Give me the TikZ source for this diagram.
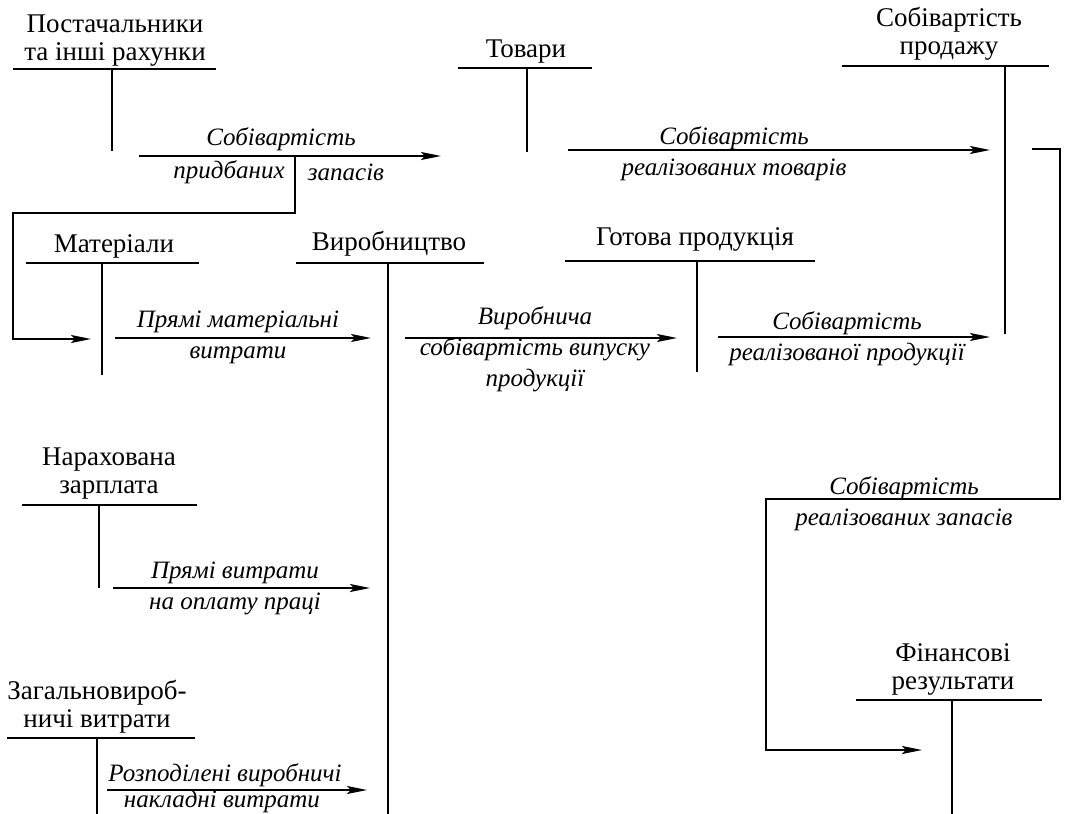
\documentclass[tikz,border=0pt]{standalone}
\usepackage{fontspec}
\setmainfont{Liberation Serif}
\usetikzlibrary{arrows.meta}
\newcommand\tacct[6]{%
  \coordinate (#1-l) at (#2,#4);
  \coordinate (#1-r) at (#3,#4);
  \coordinate (#1-t) at (#5,#4);
  \coordinate (#1-b) at (#5,#6);
  \draw[tbar] (#1-l) -- (#1-r);
  \draw[tstem] (#1-t) -- (#1-b);
}
\begin{document}
\begin{tikzpicture}[x=1pt,y=-1pt,
  title/.style={font=\fontsize{27}{28}\selectfont, align=center, inner sep=0pt},
  lbl/.style={font=\fontsize{25}{31}\selectfont\itshape, align=center, inner sep=0pt},
  tbar/.style={line width=2.4pt},
  tstem/.style={line width=2pt},
  flowa/.style={line width=1.8pt, -{Stealth[length=20pt,width=8pt,inset=4pt]}}]
\useasboundingbox[fill=white] (0,0) rectangle (1066,814);

% T-accounts: underline and stem
\tacct{post}{13}{216}{69}{112}{151}
\tacct{tov}{458}{592}{68}{527}{152}
\tacct{sobp}{842}{1049}{66}{1005}{334}
\tacct{mat}{26}{199}{263}{102}{375}
\tacct{vyr}{296}{484}{263}{388}{814}
\tacct{got}{565}{815}{261}{697}{372}
\tacct{nar}{22}{197}{505}{99}{588}
\tacct{zag}{7}{195}{738}{97}{814}
\tacct{fin}{856}{1042}{700}{952}{814}

% Account titles
\node[title] (tpost) at (115,41) {Постачальники\\та інші рахунки};
\node[title] (ttov) at (526,52) {Товари};
\node[title] (tsobp) at (949,34) {Собівартість\\продажу};
\node[title] (tmat) at (114,246) {Матеріали};
\node[title] (tvyr) at (389,244) {Виробництво};
\node[title] (tgot) at (695,239) {Готова продукція};
\node[title] (tnar) at (109,474) {Нарахована\\зарплата};
\node[title] (tzag) at (97,707) {Загальновироб-\\ничі витрати};
\node[title] (tfin) at (953,669) {Фінансові\\результати};

% flow coordinates
\coordinate (a1s) at (139,156);
\coordinate (a1e) at (441,156);
\coordinate (a1j) at (295,156);
\coordinate (a1k) at (295,213);
\coordinate (a1m) at (13,213);
\coordinate (a1n) at (13,339);
\coordinate (a1e2) at (91,339);
\coordinate (b1s) at (568,150);
\coordinate (b1e) at (990,150);
\coordinate (s1a) at (1032,149);
\coordinate (s1b) at (1060,149);
\coordinate (s1c) at (1060,499);
\coordinate (s1d) at (766,499);
\coordinate (s1e) at (766,750);
\coordinate (s1f) at (922,750);
\coordinate (c1s) at (115,338);
\coordinate (c1e) at (371,338);
\coordinate (d1s) at (405,338);
\coordinate (d1e) at (677,338);
\coordinate (e1s) at (718,337);
\coordinate (e1e) at (990,337);
\coordinate (f1s) at (113,588);
\coordinate (f1e) at (370,588);
\coordinate (g1s) at (107,790);
\coordinate (g1e) at (367,790);

% flows
\draw[flowa] (a1s) -- (a1e);
\draw[flowa] (a1j) -- (a1k) -- (a1m) -- (a1n) -- (a1e2);
\draw[flowa] (b1s) -- (b1e);
\draw[flowa] (s1a) -- (s1b) -- (s1c) -- (s1d) -- (s1e) -- (s1f);
\draw[flowa] (c1s) -- (c1e);
\draw[flowa] (d1s) -- (d1e);
\draw[flowa] (e1s) -- (e1e);
\draw[flowa] (f1s) -- (f1e);
\draw[flowa] (g1s) -- (g1e);

% flow labels
\node[lbl] (l1a) at (281,139) {Собівартість};
\node[lbl] (l1b) at (229,172) {придбаних};
\node[lbl] (l1c) at (346,172) {запасів};
\node[lbl] (l2) at (734,154) {Собівартість\\реалізованих товарів};
\node[lbl] (l3) at (238,337) {Прямі матеріальні\\витрати};
\node[lbl] (l4) at (535,349) {Виробнича\\собівартість випуску\\продукції};
\node[lbl] (l5) at (847,339) {Собівартість\\реалізованої продукції};
\node[lbl] (l6) at (235,588) {Прямі витрати\\на оплату праці};
\node[lbl, anchor=base] (l7a) at (225,781) {Розподілені виробничі};
\node[lbl, anchor=base] (l7b) at (222,807) {накладні витрати};
\node[lbl] (l8) at (904,504) {Собівартість\\реалізованих запасів};
\end{tikzpicture}
\end{document}
